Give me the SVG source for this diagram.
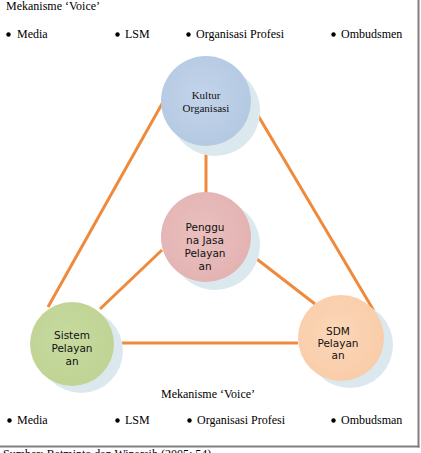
<svg xmlns="http://www.w3.org/2000/svg" width="421" height="453" viewBox="0 0 421 453">
<style>
.t{font-family:"Liberation Serif","Times New Roman",serif;font-size:12px;fill:#000}
.s{font-family:"DejaVu Sans",sans-serif;font-size:10.5px;fill:#111;text-anchor:middle}
.k{font-family:"Liberation Serif","Times New Roman",serif;font-size:11px;fill:#111;text-anchor:middle}
.sh{fill:#dbe9ef}
.b{fill:#000}
.c{stroke:#ef8a3c;stroke-width:3;fill:none;stroke-linecap:butt}
</style>
<defs>
<radialGradient id="gb" cx="0.45" cy="0.45" r="0.6"><stop offset="0" stop-color="#c3d4ea"/><stop offset="1" stop-color="#b3c8e2"/></radialGradient>
<radialGradient id="gp" cx="0.45" cy="0.45" r="0.6"><stop offset="0" stop-color="#e9c0bf"/><stop offset="1" stop-color="#e3b2b1"/></radialGradient>
<radialGradient id="gg" cx="0.45" cy="0.45" r="0.6"><stop offset="0" stop-color="#c8da9f"/><stop offset="1" stop-color="#bfd394"/></radialGradient>
<radialGradient id="go" cx="0.45" cy="0.45" r="0.6"><stop offset="0" stop-color="#fcd7b8"/><stop offset="1" stop-color="#f9cca8"/></radialGradient>
</defs>
<rect width="421" height="453" fill="#fff"/>
<g id="connectors">
<line class="c" x1="163" y1="102" x2="48" y2="307"/>
<line class="c" x1="250" y1="102" x2="374" y2="311"/>
<line class="c" x1="206" y1="146" x2="206" y2="193"/>
<line class="c" x1="162" y1="250" x2="100" y2="309"/>
<line class="c" x1="249" y1="253" x2="315" y2="304"/>
<line class="c" x1="112" y1="343" x2="298" y2="343"/>
</g>
<g id="kultur">
<circle class="sh" cx="215" cy="111" r="45"/>
<circle cx="206" cy="101" r="45" fill="url(#gb)"/>
<text class="k" x="206" y="99">Kultur</text>
<text class="k" x="206" y="112">Organisasi</text>
</g>
<g id="pengguna">
<circle class="sh" cx="215" cy="245" r="45"/>
<circle cx="206" cy="237" r="45" fill="url(#gp)"/>
<text class="s" x="205" y="231">Penggu</text>
<text class="s" x="205" y="244">na Jasa</text>
<text class="s" x="205" y="257">Pelayan</text>
<text class="s" x="205" y="270">an</text>
</g>
<g id="sistem">
<circle class="sh" cx="81" cy="351" r="42"/>
<circle cx="72" cy="344" r="42" fill="url(#gg)"/>
<text class="s" x="72" y="339">Sistem</text>
<text class="s" x="72" y="352">Pelayan</text>
<text class="s" x="72" y="365">an</text>
</g>
<g id="sdm">
<circle class="sh" cx="350" cy="345" r="43"/>
<circle cx="341" cy="338" r="43" fill="url(#go)"/>
<text class="s" x="338" y="335">SDM</text>
<text class="s" x="338" y="347">Pelayan</text>
<text class="s" x="338" y="359">an</text>
</g>
<g id="voice-top">
<text class="t" x="6" y="10">Mekanisme ‘Voice’</text>
<circle class="b" cx="8.5" cy="34.5" r="2.2"/>
<circle class="b" cx="117.5" cy="34.5" r="2.2"/>
<circle class="b" cx="188.5" cy="34.5" r="2.2"/>
<circle class="b" cx="333.5" cy="34.5" r="2.2"/>
<text class="t" x="17" y="38">Media</text>
<text class="t" x="125" y="38">LSM</text>
<text class="t" x="196" y="38">Organisasi Profesi</text>
<text class="t" x="341" y="38">Ombudsmen</text>
</g>
<g id="voice-bottom">
<text class="t" x="161" y="398">Mekanisme ‘Voice’</text>
<circle class="b" cx="9.5" cy="420.5" r="2.2"/>
<circle class="b" cx="117.5" cy="420.5" r="2.2"/>
<circle class="b" cx="189.5" cy="420.5" r="2.2"/>
<circle class="b" cx="333.5" cy="420.5" r="2.2"/>
<text class="t" x="17" y="424">Media</text>
<text class="t" x="125" y="424">LSM</text>
<text class="t" x="197" y="424">Organisasi Profesi</text>
<text class="t" x="341" y="424">Ombudsman</text>
</g>
<g id="frame" stroke="#808080" stroke-width="2" fill="none">
<line x1="418.5" y1="0" x2="418.5" y2="447.5"/>
<line x1="0" y1="446.5" x2="419.5" y2="446.5"/>
</g>
<text class="t" x="3" y="458">Sumber: Ratminto dan Winarsih (2005: 54)</text>
</svg>
